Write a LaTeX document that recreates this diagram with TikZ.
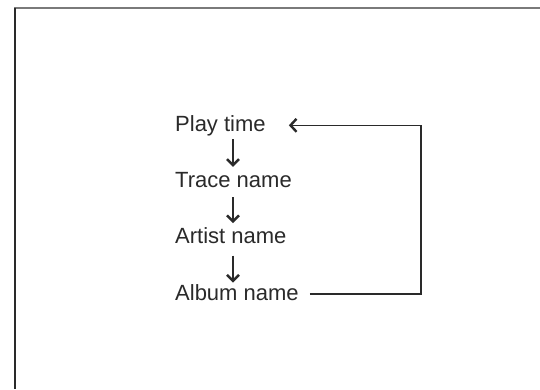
\documentclass[tikz,border=0pt]{standalone}
\usepackage{fontspec}
\setmainfont{Liberation Sans}
\usetikzlibrary{arrows.meta}
\definecolor{ink}{HTML}{2A2A2A}
\definecolor{frametop}{HTML}{7A7A7A}
\begin{document}
\begin{tikzpicture}[x=1pt,y=-1pt,
  lbl/.style={anchor=base west,inner sep=0pt,text=ink,font=\fontsize{22}{26}\selectfont},
  varrow/.style={draw=ink,line width=1.2pt,-{Straight Barb[length=6pt,width=12pt,line width=2.4pt]}},
  fbarrow/.style={draw=ink,line width=1.3pt,-{Straight Barb[length=6pt,width=13pt,line width=2.4pt]}}]
\useasboundingbox (0,0) rectangle (540,389);
\fill[white] (0,0) rectangle (540,389);
% frame
\draw[frametop,line width=1.5pt] (14,8.2) -- (540,8.2);
\draw[ink,line width=2pt] (15,7.5) -- (15,389);
% labels
\node[lbl] (p)  at (175,131)   {Play time};
\node[lbl] (t)  at (175,187.3) {Trace name};
\node[lbl] (a)  at (175,243.6) {Artist name};
\node[lbl] (al) at (175,300)   {Album name};
\coordinate (ax) at (233,0);
\coordinate (corner) at (421,0);
% chain arrows
\draw[varrow,shorten <=8pt,shorten >=20.5pt] (ax |- p.base) -- (ax |- t.base);
\draw[varrow,shorten <=10pt,shorten >=20.5pt] (ax |- t.base) -- (ax |- a.base);
\draw[varrow,shorten <=12pt,shorten >=17.5pt] (ax |- a.base) -- (ax |- al.base);
% feedback
\draw[fbarrow] ([xshift=11pt,yshift=-2pt]al.east) -| (corner |- p.east) -- ([xshift=23pt]p.east);
\end{tikzpicture}
\end{document}
